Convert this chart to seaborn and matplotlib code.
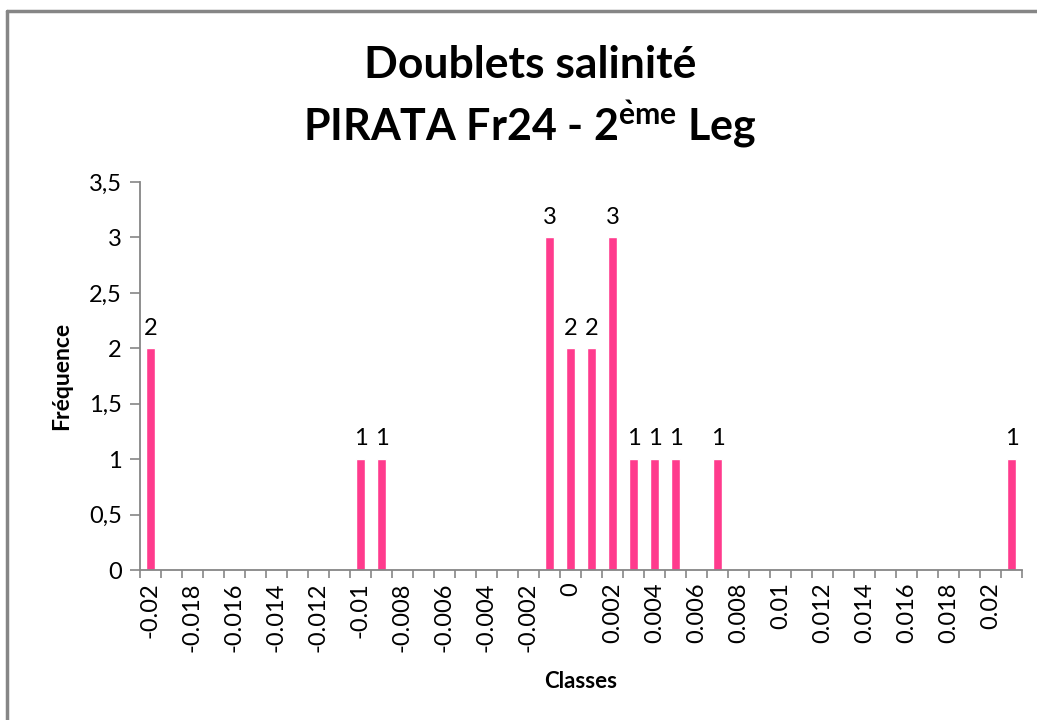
import matplotlib
matplotlib.use("Agg")
import matplotlib.pyplot as plt
from matplotlib.lines import Line2D
from matplotlib.ticker import FixedLocator, FuncFormatter
import pandas as pd
import seaborn as sns

# classes de l'histogramme (pas de 0.001)
classes = ["-0.02", "-0.019", "-0.018", "-0.017", "-0.016", "-0.015", "-0.014",
           "-0.013", "-0.012", "-0.011", "-0.01", "-0.009", "-0.008", "-0.007",
           "-0.006", "-0.005", "-0.004", "-0.003", "-0.002", "-0.001", "0",
           "0.001", "0.002", "0.003", "0.004", "0.005", "0.006", "0.007",
           "0.008", "0.009", "0.01", "0.011", "0.012", "0.013", "0.014",
           "0.015", "0.016", "0.017", "0.018", "0.019", "0.02", "0.021"]
frequence = [2, 0, 0, 0, 0, 0, 0, 0, 0, 0, 1, 1, 0, 0, 0, 0, 0, 0, 0, 3, 2,
             2, 3, 1, 1, 1, 0, 1, 0, 0, 0, 0, 0, 0, 0, 0, 0, 0, 0, 0, 0, 1]

df = pd.DataFrame({"Classes": classes, "Fréquence": frequence})

sns.set_style("white")
plt.rcParams["font.family"] = ["Lato", "DejaVu Sans"]
plt.rcParams["mathtext.fontset"] = "custom"
plt.rcParams["mathtext.bf"] = "Lato:bold"
plt.rcParams["mathtext.rm"] = "Lato"
plt.rcParams["text.color"] = "black"
plt.rcParams["axes.labelcolor"] = "black"

fig = plt.figure(figsize=(10.37, 7.2), dpi=100)
ax = fig.add_axes([0.135, 0.2083, 0.8505, 0.5389])

sns.barplot(data=df, x="Classes", y="Fréquence", order=classes,
            color="#FF3B8D", saturation=1, width=0.45, ax=ax)

# étiquettes de données (seulement les valeurs non nulles)
labs = [str(v) if v > 0 else "" for v in frequence]
ax.bar_label(ax.containers[0], labels=labs, padding=7, fontsize=17, color="black")

ax.set_xlim(-0.5, len(classes) - 0.5)
ax.set_ylim(0, 3.5)
ax.set_yticks([0, 0.5, 1, 1.5, 2, 2.5, 3, 3.5])
ax.yaxis.set_major_formatter(FuncFormatter(lambda v, p: f"{v:g}".replace(".", ",")))

# une étiquette sur deux, graduations entre les classes
ax.set_xticks(range(0, len(classes), 2))
ax.set_xticklabels(classes[::2], rotation=90, fontsize=17)
ax.xaxis.set_minor_locator(FixedLocator([i - 0.5 for i in range(len(classes) + 1)]))
ax.tick_params(axis="x", which="major", length=0, pad=9, labelcolor="black")
ax.tick_params(axis="x", which="minor", length=6, width=1.2, color="#868686",
               direction="out", bottom=True)
ax.tick_params(axis="y", length=7, width=1.2, color="#868686", labelsize=17,
               labelcolor="black", direction="out", left=True, pad=6)

for s in ["top", "right"]:
    ax.spines[s].set_visible(False)
for s in ["left", "bottom"]:
    ax.spines[s].set_color("#868686")
    ax.spines[s].set_linewidth(1.3)

ax.set_xlabel("Classes", fontsize=16, fontweight="bold", labelpad=14)
ax.set_ylabel("Fréquence", fontsize=16.5, fontweight="bold", labelpad=12)

fig.text(0.511, 0.91, "Doublets salinité", ha="center", va="center",
         fontsize=32, fontweight="bold")
fig.text(0.511, 0.827, r"PIRATA Fr24 - 2$^{\mathbf{\grave{e}me}}$ Leg", ha="center",
         va="center", fontsize=31, fontweight="bold")

# cadre du graphique
fig.add_artist(Line2D([0.007, 0.007], [0, 0.985], color="#868686", lw=2.5))
fig.add_artist(Line2D([0.007, 1.0], [0.985, 0.985], color="#868686", lw=2.5))

fig.savefig("out.png", dpi=100)
